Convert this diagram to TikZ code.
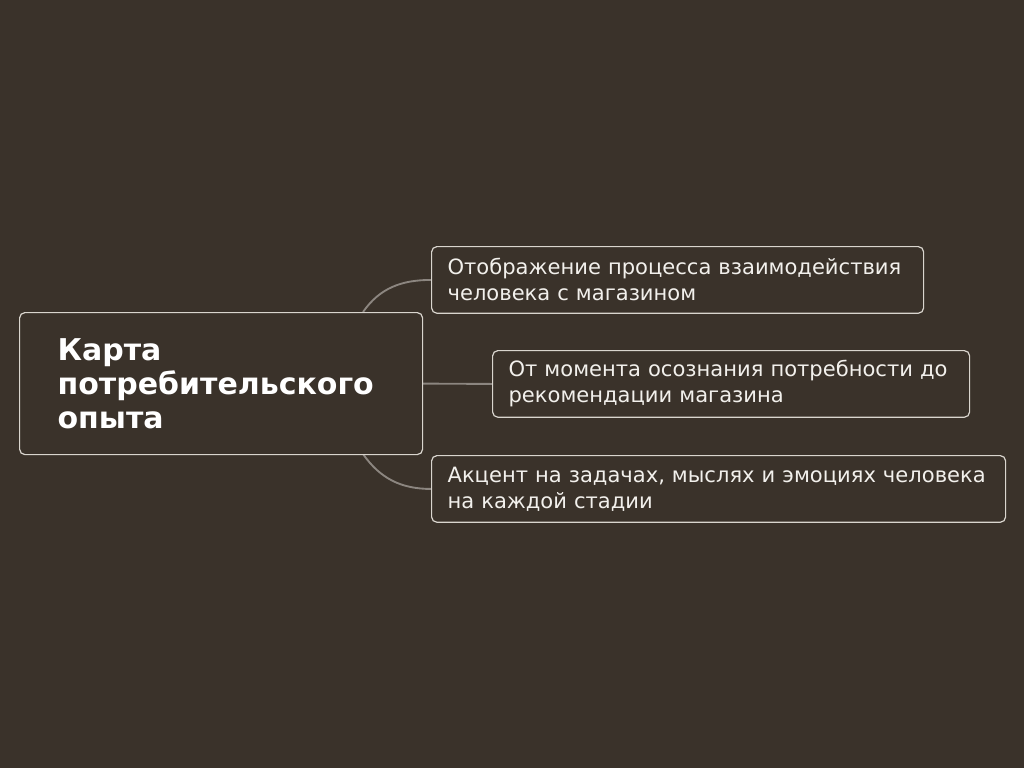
\documentclass[tikz,border=0pt]{standalone}
\usepackage{fontspec}
\setmainfont{DejaVu Sans}
\usetikzlibrary{backgrounds}
\definecolor{bgdark}{HTML}{3A322A}
\definecolor{boxline}{HTML}{D9D5CE}
\definecolor{linkline}{HTML}{8C8680}
\definecolor{cardtext}{HTML}{F2F0EC}

\tikzset{
  card/.style={draw=boxline, line width=0.9pt, fill=bgdark, rounded corners=4pt,
    anchor=north west, text=cardtext, align=left, inner ysep=0pt,
    font=\fontsize{15.8}{19.5}\selectfont},
  rootcard/.style={card, text=white, inner xsep=28.5pt,
    font=\bfseries\fontsize{22.5}{25.5}\selectfont},
  link/.style={draw=linkline, line width=1.4pt},
}

\begin{document}
\begin{tikzpicture}[x=0.75pt, y=-0.75pt]
  \useasboundingbox (0,0) rectangle (1024,768);

  % cards
  \node[rootcard, text width=245.25pt, minimum height=106.5pt] (root) at (19,312)
    {Карта\\потребительского\\опыта};
  \node[card, inner xsep=12pt, text width=345pt, minimum height=50pt] (goal) at (431,246)
    {Отображение процесса взаимодействия\\человека с магазином};
  \node[card, inner xsep=12pt, text width=333.75pt, minimum height=50pt] (span) at (492,350)
    {От момента осознания потребности до\\рекомендации магазина};
  \node[card, inner xsep=12pt, text width=406.5pt, minimum height=50pt] (focus) at (431,455)
    {Акцент на задачах, мыслях и эмоциях человека\\на каждой стадии};

  % branch ends on the root card
  \coordinate (jt) at (363,312);
  \coordinate (jb) at (363,454);

  % links, behind the cards
  \begin{scope}[on background layer]
    \fill[bgdark] (0,0) rectangle (1024,768);
    \draw[link] (jt) to[out=55, in=180] (goal.west);
    \draw[link] (root.east) -- (span.west);
    \draw[link] (jb) to[out=-55, in=180] (focus.west);
  \end{scope}
\end{tikzpicture}
\end{document}
